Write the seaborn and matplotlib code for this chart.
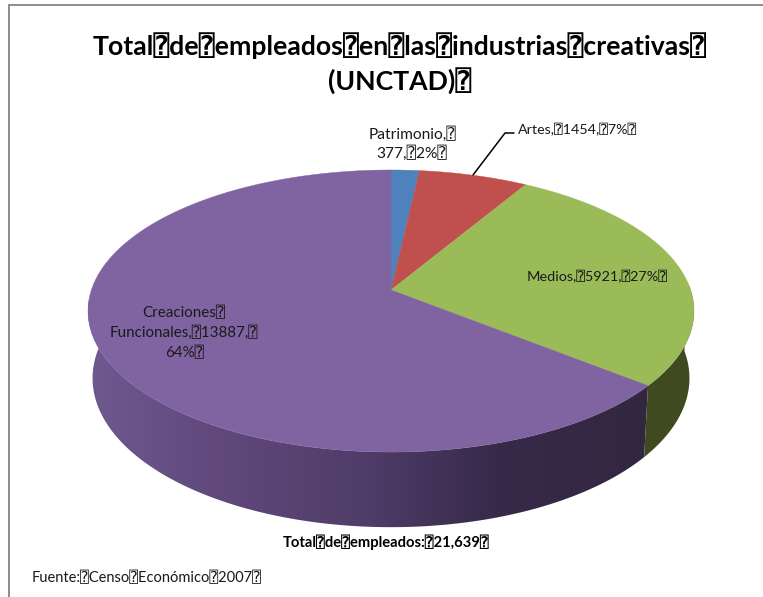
import numpy as np
import matplotlib
matplotlib.use("Agg")
import matplotlib.pyplot as plt
from matplotlib.colors import LinearSegmentedColormap
from matplotlib.patches import Polygon
import seaborn as sns

# Employment by creative-industry group
categories = ["Patrimonio", "Artes", "Medios", "Creaciones Funcionales"]
empleados = [377, 1454, 5921, 13887]
colores_cara = ["#4f81bd", "#c0504d", "#9bbb59", "#8064a2"]

BOX = "\u2370"
titulo = f"Total{BOX}de{BOX}empleados{BOX}en{BOX}las{BOX}industrias{BOX}creativas{BOX}\n(UNCTAD){BOX}"
etiquetas = [
    f"Patrimonio,{BOX}\n377,{BOX}2%{BOX}",
    f"Artes,{BOX}1454,{BOX}7%{BOX}",
    f"Medios,{BOX}5921,{BOX}27%{BOX}",
    f"Creaciones{BOX}\nFuncionales,{BOX}13887,{BOX}\n64%{BOX}",
]
total_txt = f"Total{BOX}de{BOX}empleados:{BOX}21,639{BOX}"
fuente_txt = f"Fuente:{BOX}Censo{BOX}Económico{BOX}2007{BOX}"

sns.set_theme(style="white")
plt.rcParams["font.family"] = ["Lato", "DejaVu Sans Mono", "DejaVu Sans"]

fig = plt.figure(figsize=(7.63, 5.97), dpi=100, facecolor="white")
ax = fig.add_axes([0, 0, 1, 1])
ax.set_xlim(0, 763)
ax.set_ylim(597, 0)
ax.axis("off")

# Perspective projection of the pie disc onto the page
CX, CY = 391.0, 290.0
A, B, K = 299.6, 137.9, 0.149
DROP, SHRINK = 66.0, 0.985


def rim(theta_deg, lowered=False):
    t = np.radians(theta_deg)
    X, Y = np.sin(t), np.cos(t)
    w = 1 + K * Y
    s = SHRINK if lowered else 1.0
    h = DROP if lowered else 0.0
    return CX + s * A * X / w, CY - (s * B * Y - h) / w


shares = np.array(empleados) / sum(empleados)
edges = np.concatenate([[0], np.cumsum(shares) * 360])


def arc(t0, t1, lowered=False):
    th = np.linspace(t0, t1, 240)
    return np.column_stack(rim(th, lowered))


def side(t0, t1):
    return np.vstack([arc(t0, t1), arc(t0, t1, True)[::-1]])


# Outer wall of the purple slice, shaded from left to right
wall_cmap = LinearSegmentedColormap.from_list(
    "pared",
    [(0.0, "#6e5990"), (0.22, "#61497c"), (0.5, "#4f3c68"), (0.72, "#372a4a"), (1.0, "#32273f")],
)
wall = Polygon(side(edges[3], 275), closed=True, facecolor="none", edgecolor="none")
ax.add_patch(wall)
grad = ax.imshow(
    np.linspace(0, 1, 512)[None, :], extent=(88, 652, 540, 300), cmap=wall_cmap,
    aspect="auto", zorder=1,
)
grad.set_clip_path(wall)
ax.set_xlim(0, 763)
ax.set_ylim(597, 0)

# Outer wall of the green slice
ax.add_patch(Polygon(side(88, edges[3]), closed=True, facecolor="#3f4a20", edgecolor="none", zorder=1))

# Top face of the pie
for t0, t1, col in zip(edges[:-1], edges[1:], colores_cara):
    pts = np.vstack([[CX, CY], arc(t0, t1)])
    ax.add_patch(Polygon(pts, closed=True, facecolor=col, edgecolor=col, linewidth=0.3, zorder=2))

# Leader line for the Artes label
ax.plot([473, 505, 514], [175, 133, 133], color="black", lw=1.1, zorder=3)

# Frame lines
ax.plot([9, 9], [4.5, 597], color="#8c8c8c", lw=1.4, zorder=0, clip_on=False)
ax.plot([9, 763], [4.5, 4.5], color="#8c8c8c", lw=1.4, zorder=0, clip_on=False)

txt = dict(color="#1a1a1a", ha="center", va="center", zorder=4)
ax.text(400, 63.5, titulo, fontsize=19.2, fontweight="bold", color="black", ha="center",
        va="center", linespacing=1.37)
ax.text(412, 143.5, etiquetas[0], fontsize=11.2, linespacing=1.3, **txt)
ax.text(578, 130, etiquetas[1], fontsize=10.3, **txt)
ax.text(597.5, 277, etiquetas[2], fontsize=10.4, **txt)
ax.text(184, 333, etiquetas[3], fontsize=10.9, linespacing=1.47, **txt)
ax.text(386.5, 542, total_txt, fontsize=10.6, fontweight="bold", color="black", ha="center", va="center")
ax.text(32, 578.5, fuente_txt, fontsize=10.5, color="#1a1a1a", ha="left", va="center")

fig.savefig("out.png", dpi=100, facecolor="white")
